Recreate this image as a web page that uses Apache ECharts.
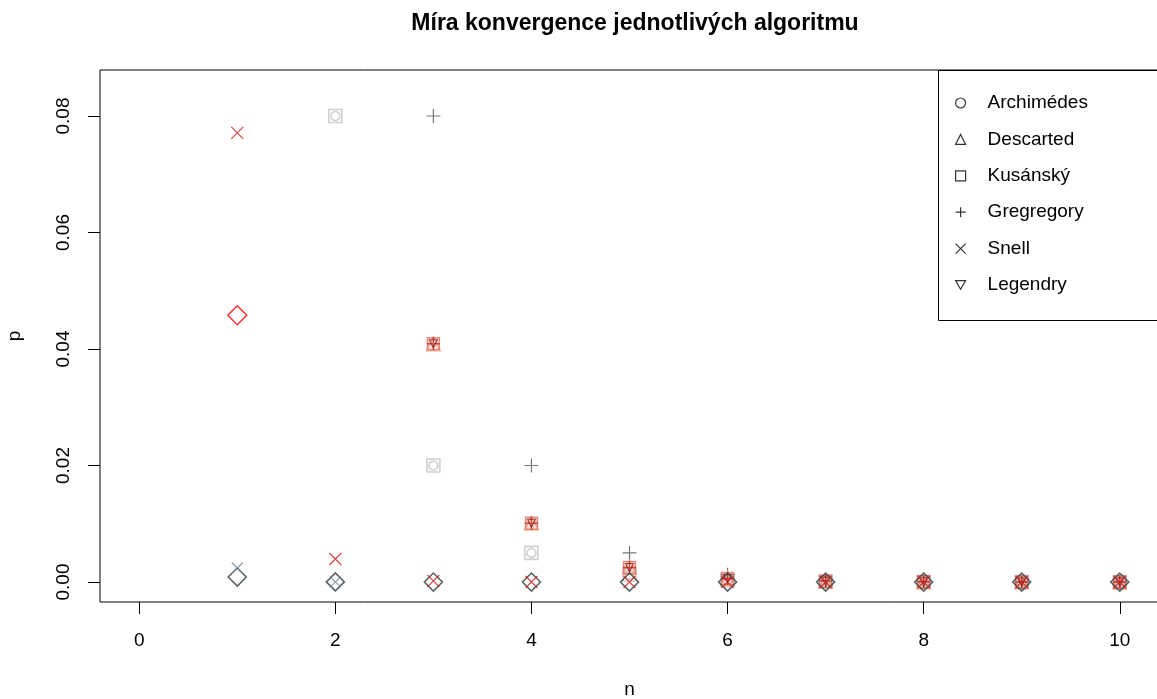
<!DOCTYPE html>
<html>
<head>
<meta charset="utf-8">
<script src="https://cdn.jsdelivr.net/npm/echarts@6/dist/echarts.min.js"></script>
<style>
  html, body { margin:0; padding:0; background:#fff; }
  #chart { width:1157px; height:699px; }
</style>
</head>
<body>
<div id="chart"></div>
<script>
// values, index 0 = n=1 ... index 9 = n=10
const nVals      = [1, 2, 3, 4, 5, 6, 7, 8, 9, 10];
const archimedes = [null, 0.08, 0.02, 0.005, 0.00125, 0.0003, 0.00008, 0.00002, 0.000005, 0.0000012];
const kusansky   = [null, 0.08, 0.02, 0.005, 0.00125, 0.0003, 0.00008, 0.00002, 0.000005, 0.0000012];
const gregory    = [null, null, 0.08, 0.02, 0.005, 0.00125, 0.0003, 0.00008, 0.00002, 0.000005];
const descarted  = [null, null, 0.0409, 0.0101, 0.0025, 0.0006, 0.00015, 0.00004, 0.00001, 0.000002];
const legendry   = [null, null, 0.0409, 0.0101, 0.0025, 0.0006, 0.00015, 0.00004, 0.00001, 0.000002];
const snell      = [0.0771, 0.00395, 0.0002, 0.00001, 0, 0, 0, 0, 0, 0];
const redDiamond = [0.0458, null, null, null, null, null, null, null, null, null];
const darkDiamond= [0.00086, 0.00002, 0, 0, 0, 0, 0, 0, 0, 0];
const slateX     = [0.0024, 0.00003, null, null, null, null, null, null, null, null];
const xTicks = [0, 2, 4, 6, 8, 10];
const yTicks = [0, 0.02, 0.04, 0.06, 0.08];

const PLUS = 'path://M5,0L5,10M0,5L10,5';
const CROSS = 'path://M0,0L10,10M10,0L0,10';
const TRI_DOWN = 'path://M0,0L10,0L5,8.66Z';
const FONT = 'Liberation Sans, Arial, sans-serif';

const pts = arr => nVals.map((n, i) => arr[i] == null ? null : [n, arr[i]]).filter(Boolean);

function sc(name, data, symbol, size, color, width, fill) {
  return {
    name, type:'scatter', data: pts(data), symbol, symbolSize: size,
    itemStyle: { color: fill || 'rgba(0,0,0,0)', borderColor: color, borderWidth: width || 1.2 },
    emphasis: { disabled: true }, z: 2
  };
}

const chart = echarts.init(document.getElementById('chart'));

const legendIcon = (name, icon) => ({
  name, icon, itemStyle: { color:'rgba(0,0,0,0)', borderColor:'#000', borderWidth:1.2 }
});

chart.setOption({
  animation: false,
  backgroundColor: '#fff',
  textStyle: { fontFamily: FONT },
  title: {
    text: 'Míra konvergence jednotlivých algoritmu',
    left: 630, top: 7, textAlign: 'center',
    textStyle: { fontFamily: FONT, fontSize: 23, fontWeight: 'bold', color: '#000' }
  },
  grid: { left: 100, top: 70, width: 1059, height: 532, outerBoundsMode: 'none',
          show: true, borderColor: '#000', borderWidth: 1, backgroundColor: 'transparent' },
  xAxis: {
    type: 'value', min: -0.4, max: 10.4,
    name: 'n', nameLocation: 'middle', nameGap: 78,
    nameTextStyle: { fontFamily: FONT, fontSize: 19, color: '#000' },
    axisLine: { show: false, onZero: false },
    splitLine: { show: false },
    axisTick: { show: true, length: 12, customValues: xTicks, lineStyle: { color: '#000' } },
    axisLabel: { customValues: xTicks, margin: 29, fontSize: 19, color: '#000', fontFamily: FONT }
  },
  yAxis: {
    type: 'value', min: -0.00343, max: 0.0879,
    name: 'p', nameLocation: 'middle', nameGap: 76, nameRotate: 90,
    nameTextStyle: { fontFamily: FONT, fontSize: 19, color: '#000' },
    axisLine: { show: false, onZero: false },
    splitLine: { show: false },
    axisTick: { show: true, length: 12, customValues: yTicks, lineStyle: { color: '#000' } },
    axisLabel: { customValues: yTicks, rotate: 90, margin: 27, fontSize: 19, color: '#000', fontFamily: FONT,
                 formatter: v => v.toFixed(2) }
  },
  legend: {
    orient: 'vertical', left: 955, top: 93.5, padding: 0, z: 10,
    itemWidth: 10, itemHeight: 10, itemGap: 17.4,
    selectedMode: false,
    textStyle: { fontFamily: FONT, fontSize: 19, color: '#000', lineHeight: 19, padding: [0, 0, 0, 17] },
    data: [
      legendIcon('Archimédes', 'circle'),
      legendIcon('Descarted', 'triangle'),
      legendIcon('Kusánský', 'rect'),
      legendIcon('Gregregory', PLUS),
      legendIcon('Snell', CROSS),
      legendIcon('Legendry', TRI_DOWN)
    ]
  },
  graphic: [
    { type: 'rect', left: 938, top: 70, z: 3, silent: true,
      shape: { width: 240, height: 250 },
      style: { fill: '#fff', stroke: '#000', lineWidth: 1 } }
  ],
  series: [
    sc('Kusánský', kusansky, 'rect', 13, '#c4c4c4', 1.6),
    sc('Archimédes', archimedes, 'circle', 9, '#c4c4c4', 1.6),
    sc('Gregregory', gregory, PLUS, 14, '#555555', 1.2),
    sc('Descarted', descarted, 'triangle', 14, '#f4a06a', 1.3),
    sc('sqOrange', descarted, 'rect', 12, '#e0706a', 1.5, 'rgba(224,112,106,0.3)'),
    sc('plusRed', descarted, PLUS, 13, '#c0301c', 1.4),
    sc('Legendry', legendry, TRI_DOWN, 8, '#8b1a1a', 1.1),
    sc('diamondDark', darkDiamond, 'diamond', 18, '#2f3d3d', 1.6),
    sc('xSlate', slateX, CROSS, 11, '#778899', 1.3),
    sc('diamondRed', redDiamond, 'diamond', 19, '#ff0000', 1.5),
    sc('Snell', snell, CROSS, 12, '#c82020', 1.3)
  ]
});

window.addEventListener('resize', () => chart.resize());
</script>
</body>
</html>
